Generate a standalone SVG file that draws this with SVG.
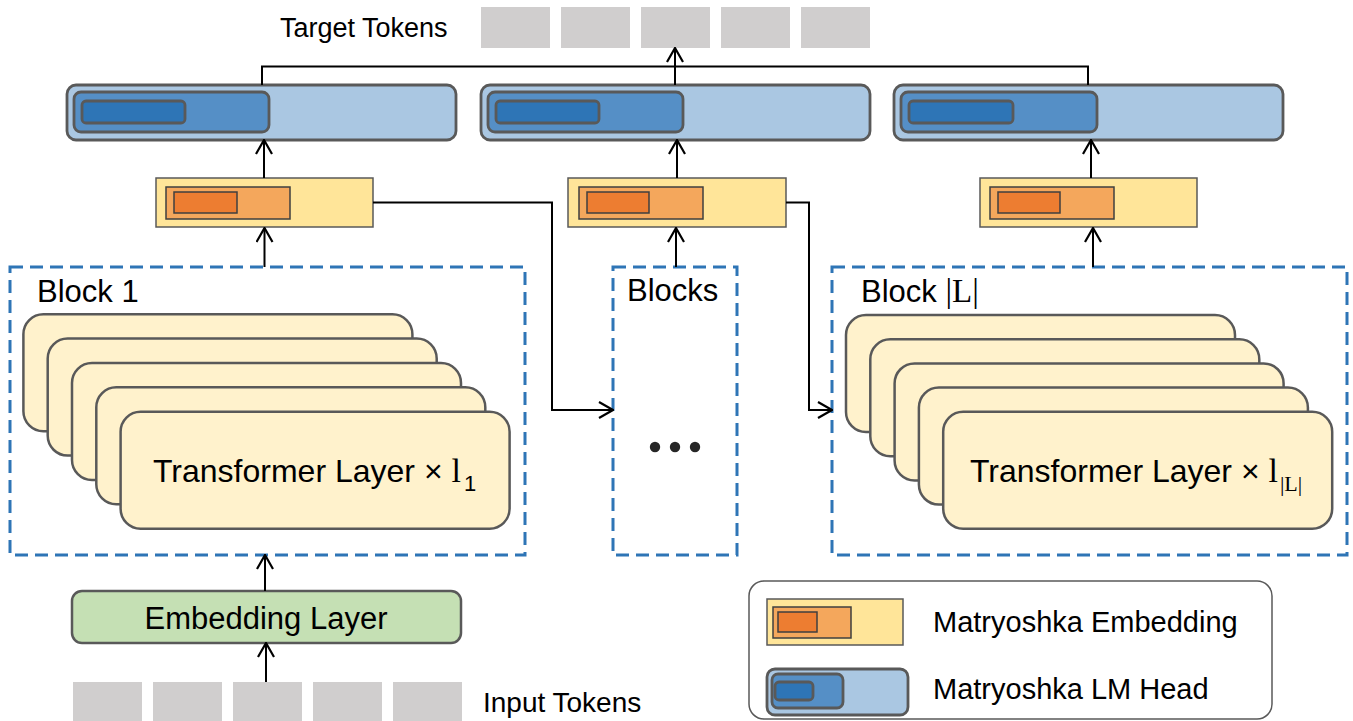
<svg xmlns="http://www.w3.org/2000/svg" width="1353" height="721" viewBox="0 0 1353 721">
<style>
text{font-family:"Liberation Sans",Arial,sans-serif;fill:#000}
.serif{font-family:"Liberation Serif","Times New Roman",serif}
.tok{fill:#D0CECE}
.lm0{fill:#AAC7E2;stroke:#595959;stroke-width:2.8}
.lm1{fill:#558FC6;stroke:#595959;stroke-width:2.8}
.lm2{fill:#2E75B6;stroke:#595959;stroke-width:2.8}
.em0{fill:#FFE599;stroke:#595959;stroke-width:1.5}
.em1{fill:#F4A75C;stroke:#3F3F3F;stroke-width:1.5}
.em2{fill:#ED7D31;stroke:#3F3F3F;stroke-width:1.5}
.card{fill:#FFF2CC;stroke:#595959;stroke-width:2.5}
.dash{fill:none;stroke:#2E75B6;stroke-width:3;stroke-dasharray:13 7}
.con{fill:none;stroke:#000;stroke-width:2}
.arr{fill:none;stroke:#000;stroke-width:2;marker-end:url(#ah)}
</style>
<defs>
<marker id="ah" viewBox="0 0 16 18" refX="15" refY="9" markerWidth="16" markerHeight="18" orient="auto" markerUnits="userSpaceOnUse">
<path d="M1,1 L15,9 L1,17" fill="none" stroke="#000" stroke-width="2.2"/>
</marker>
</defs>

<g id="target-tokens">
<text x="280" y="37" font-size="27">Target Tokens</text>
<rect class="tok" x="481" y="7" width="69" height="41"/>
<rect class="tok" x="561" y="7" width="69" height="41"/>
<rect class="tok" x="641" y="7" width="69" height="41"/>
<rect class="tok" x="721" y="7" width="69" height="41"/>
<rect class="tok" x="801" y="7" width="69" height="41"/>
</g>

<g id="lmhead-1">
<rect class="lm0" x="67" y="85" width="389" height="55" rx="9"/>
<rect class="lm1" x="74" y="92" width="195" height="40" rx="7"/>
<rect class="lm2" x="82" y="101" width="103" height="22" rx="4"/>
</g>
<g id="lmhead-2">
<rect class="lm0" x="481" y="85" width="389" height="55" rx="9"/>
<rect class="lm1" x="488" y="92" width="195" height="40" rx="7"/>
<rect class="lm2" x="496" y="101" width="103" height="22" rx="4"/>
</g>
<g id="lmhead-3">
<rect class="lm0" x="894" y="85" width="389" height="55" rx="9"/>
<rect class="lm1" x="901" y="92" width="196" height="40" rx="7"/>
<rect class="lm2" x="909" y="101" width="104" height="22" rx="4"/>
</g>

<g id="memb-1">
<rect class="em0" x="156" y="178" width="217" height="49"/>
<rect class="em1" x="166" y="187" width="124" height="32"/>
<rect class="em2" x="174" y="192" width="63" height="21"/>
</g>
<g id="memb-2">
<rect class="em0" x="568" y="178" width="218" height="49"/>
<rect class="em1" x="579" y="187" width="124" height="32"/>
<rect class="em2" x="587" y="192" width="62" height="21"/>
</g>
<g id="memb-3">
<rect class="em0" x="980" y="178" width="217" height="49"/>
<rect class="em1" x="990" y="187" width="124" height="32"/>
<rect class="em2" x="998" y="192" width="62" height="21"/>
</g>

<g id="block-1">
<rect class="dash" x="10" y="267" width="515" height="288"/>
<text x="37" y="302" font-size="31">Block 1</text>
<rect class="card" x="23.4" y="314.3" width="389" height="117" rx="20"/>
<rect class="card" x="47.7" y="338.6" width="389" height="117" rx="20"/>
<rect class="card" x="72" y="363" width="389" height="117" rx="20"/>
<rect class="card" x="96.3" y="387.3" width="389" height="117" rx="20"/>
<rect class="card" x="120.6" y="411.7" width="389" height="117" rx="20"/>
<text x="153" y="482" font-size="32">Transformer Layer × <tspan class="serif" font-size="34">l</tspan><tspan font-size="22" dx="3" dy="9">1</tspan></text>
</g>

<g id="blocks-mid">
<rect class="dash" x="613" y="267" width="124" height="288"/>
<text x="627" y="301" font-size="31">Blocks</text>
<circle cx="655" cy="447" r="5.2" fill="#262626"/>
<circle cx="675" cy="447" r="5.2" fill="#262626"/>
<circle cx="695" cy="447" r="5.2" fill="#262626"/>
</g>

<g id="block-L">
<rect class="dash" x="832" y="267" width="515" height="288"/>
<text x="861" y="302" font-size="31">Block <tspan class="serif" font-size="33">|L|</tspan></text>
<rect class="card" x="846" y="315" width="389" height="117" rx="20"/>
<rect class="card" x="870.3" y="339.2" width="389" height="117" rx="20"/>
<rect class="card" x="894.6" y="363.4" width="389" height="117" rx="20"/>
<rect class="card" x="918.9" y="387.6" width="389" height="117" rx="20"/>
<rect class="card" x="943.2" y="411.8" width="389" height="117" rx="20"/>
<text x="970" y="482" font-size="32">Transformer Layer × <tspan class="serif" font-size="34">l</tspan><tspan class="serif" font-size="22" dx="2" dy="9">|L|</tspan></text>
</g>

<g id="embedding-layer">
<rect x="72" y="591" width="389" height="52" rx="10" fill="#C5E0B4" stroke="#595959" stroke-width="2.5"/>
<text x="266" y="629" font-size="31" text-anchor="middle">Embedding Layer</text>
</g>

<g id="input-tokens">
<rect class="tok" x="73" y="682" width="69" height="45"/>
<rect class="tok" x="153" y="682" width="69" height="45"/>
<rect class="tok" x="233" y="682" width="69" height="45"/>
<rect class="tok" x="313" y="682" width="69" height="45"/>
<rect class="tok" x="393" y="682" width="69" height="45"/>
<text x="483" y="712" font-size="28">Input Tokens</text>
</g>

<g id="legend">
<rect x="749" y="581" width="523" height="138" rx="15" fill="#fff" stroke="#595959" stroke-width="1.5"/>
<rect class="em0" x="767" y="599" width="136" height="46"/>
<rect class="em1" x="773" y="607" width="78" height="31"/>
<rect class="em2" x="778" y="612" width="39" height="20"/>
<text x="933" y="632" font-size="29">Matryoshka Embedding</text>
<rect class="lm0" x="767" y="669" width="141" height="46" rx="8"/>
<rect class="lm1" x="772" y="674" width="71" height="34" rx="6"/>
<rect class="lm2" x="775" y="682" width="38" height="18" rx="4"/>
<text x="933" y="699" font-size="29">Matryoshka LM Head</text>
</g>

<g id="connectors">
<polyline class="con" points="262,85 262,66.5 1088,66.5 1088,85"/>
<line class="arr" x1="675" y1="85" x2="675" y2="48"/>
<line class="arr" x1="264" y1="178" x2="264" y2="140"/>
<line class="arr" x1="677" y1="178" x2="677" y2="140"/>
<line class="arr" x1="1091" y1="178" x2="1091" y2="140"/>
<line class="arr" x1="264.5" y1="267" x2="264.5" y2="228"/>
<line class="arr" x1="676" y1="267" x2="676" y2="228"/>
<line class="arr" x1="1093" y1="267" x2="1093" y2="228"/>
<polyline class="arr" points="373,202.5 552,202.5 552,410 613,410"/>
<polyline class="arr" points="786,202.5 809,202.5 809,410 832,410"/>
<line class="arr" x1="265" y1="591" x2="265" y2="555"/>
<line class="arr" x1="266" y1="682" x2="266" y2="643"/>
</g>
</svg>
